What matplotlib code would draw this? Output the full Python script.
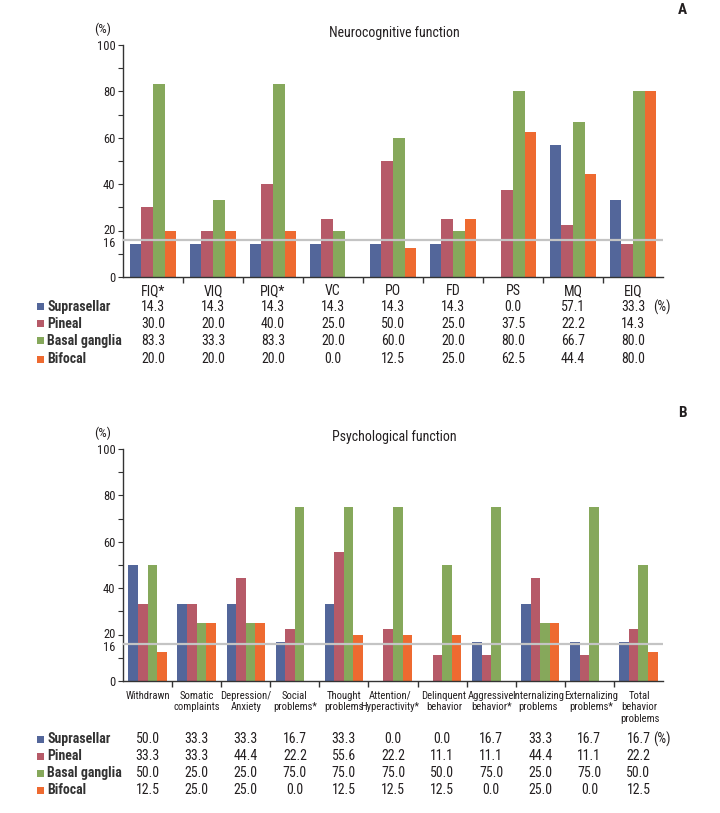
import matplotlib
matplotlib.use("Agg")
import matplotlib.pyplot as plt
from matplotlib.patches import Rectangle
from matplotlib.transforms import blended_transform_factory, ScaledTranslation
from matplotlib import font_manager as fm
import numpy as np

available = set(f.name for f in fm.fontManager.ttflist)
preferred = ['Roboto Condensed', 'Fira Sans Condensed', 'Archivo Narrow', 'PT Sans Narrow',
             'IBM Plex Sans Condensed', 'Barlow Condensed', 'Liberation Sans']
FONT = next((f for f in preferred if f in available), 'DejaVu Sans')
plt.rcParams['font.family'] = [FONT, 'DejaVu Sans']

series = ["Suprasellar", "Pineal", "Basal ganglia", "Bifocal"]
colors = ["#53669A", "#B65A68", "#86A85B", "#EE6A30"]

# Panel A: Neurocognitive function
a_categories = ["FIQ*", "VIQ", "PIQ*", "VC", "PO", "FD", "PS", "MQ", "EIQ"]
a_suprasellar = [14.3, 14.3, 14.3, 14.3, 14.3, 14.3, 0.0, 57.1, 33.3]
a_pineal = [30.0, 20.0, 40.0, 25.0, 50.0, 25.0, 37.5, 22.2, 14.3]
a_basal = [83.3, 33.3, 83.3, 20.0, 60.0, 20.0, 80.0, 66.7, 80.0]
a_bifocal = [20.0, 20.0, 20.0, 0.0, 12.5, 25.0, 62.5, 44.4, 80.0]

# Panel B: Psychological function
b_categories = ["Withdrawn", "Somatic\ncomplaints", "Depression/\nAnxiety", "Social\nproblems*",
                "Thought\nproblems", "Attention/\nHyperactivity*", "Delinquent\nbehavior",
                "Aggressive\nbehavior*", "Internalizing\nproblems", "Externalizing\nproblems*",
                "Total\nbehavior\nproblems"]
b_suprasellar = [50.0, 33.3, 33.3, 16.7, 33.3, 0.0, 0.0, 16.7, 33.3, 16.7, 16.7]
b_pineal = [33.3, 33.3, 44.4, 22.2, 55.6, 22.2, 11.1, 11.1, 44.4, 11.1, 22.2]
b_basal = [50.0, 25.0, 25.0, 75.0, 75.0, 75.0, 50.0, 75.0, 25.0, 75.0, 50.0]
b_bifocal = [12.5, 25.0, 25.0, 0.0, 12.5, 12.5, 12.5, 0.0, 25.0, 0.0, 12.5]
# bar heights as drawn in the original figure (bifocal bars differ from table for 3 groups)
b_bifocal_bars = [12.5, 25.0, 25.0, 0.0, 20.0, 20.0, 20.0, 0.0, 25.0, 0.0, 12.5]

reference_line = 16
yticks_major = [0, 16, 20, 40, 60, 80, 100]
yticks_minor = [10, 30, 50, 70, 90]

W, H = 720, 813
fig = plt.figure(figsize=(W / 100, H / 100), dpi=100)
TXT = "#231F20"


def fx(px):
    return px / W


def fy(py):
    return 1 - py / H


def shift(artist, dx_px, dy_px):
    artist.set_transform(artist.get_transform() +
                         ScaledTranslation(dx_px / 100, dy_px / 100, fig.dpi_scale_trans))


def panel(top, bottom, cats, bars, table, title, letter, label_y, row_ys, fs_lab, pad,
          nudges=None):
    ax = fig.add_axes([fx(123), fy(bottom), fx(663) - fx(123), fy(top) - fy(bottom)])
    n = len(cats)
    x = np.arange(n)
    bw = 0.195
    for i, (vals, c) in enumerate(zip(bars, colors)):
        ax.bar(x + (i - 1.5) * bw, vals, width=bw, color=c, linewidth=0, zorder=2)
    ax.axhline(reference_line, color="#C4C4C4", lw=1.6, zorder=3)
    ax.set_xlim(-0.5, n - 0.5)
    ax.set_ylim(0, 100)
    for s in ["top", "right"]:
        ax.spines[s].set_visible(False)
    for s in ["left", "bottom"]:
        ax.spines[s].set_color("#333333")
        ax.spines[s].set_linewidth(1.0)
    ax.set_yticks(yticks_major)
    ax.set_yticklabels([str(v) for v in yticks_major], fontsize=9, color=TXT)
    ax.set_yticks(yticks_minor, minor=True)
    ax.tick_params(axis="y", which="both", direction="out", length=3.5, width=0.8,
                   color="#333333", pad=2)
    for t, lab in zip(ax.yaxis.get_major_ticks(), ax.get_yticklabels()):
        loc = t.get_loc()
        if loc == 16:
            t.tick1line.set_visible(False)
            shift(lab, 0, -2)
        elif loc == 20:
            shift(lab, 0, 2)
    ax.set_xticks(x)
    ax.set_xticklabels(cats, fontsize=fs_lab, color=TXT, linespacing=1.2, va="top")
    ax.tick_params(axis="x", which="major", length=0, pad=pad)
    if nudges:
        for lab, dx in zip(ax.get_xticklabels(), nudges):
            if dx:
                shift(lab, dx, 0)
    ax.set_xticks(np.arange(0.5, n - 0.5, 1), minor=True)
    ax.tick_params(axis="x", which="minor", direction="out", length=4, width=1.0, color="#333333")

    fig.text(fx(103), fy(top - 16), "(%)", fontsize=9.5, color=TXT, ha="center", va="center")
    fig.text(fx(394), fy(top - 12), title, fontsize=10, color=TXT, ha="center", va="center")
    fig.text(fx(682), fy(label_y), letter, fontsize=11, fontweight="bold", color=TXT,
             ha="center", va="center")

    tr = blended_transform_factory(ax.transData, fig.transFigure)
    for r, (name, vals, c, py) in enumerate(zip(series, table, colors, row_ys)):
        fig.add_artist(Rectangle((fx(37), fy(py + 3.5)), fx(7), 7 / H,
                                 transform=fig.transFigure, color=c, lw=0))
        fig.text(fx(47), fy(py), name, fontsize=10, fontweight="bold", color="#333333",
                 ha="left", va="center")
        for j, v in enumerate(vals):
            fig.text(j, fy(py), f"{v:.1f}", transform=tr, fontsize=10, color=TXT,
                     ha="center", va="center")
        if r == 0:
            fig.text(fx(662), fy(py), "(%)", fontsize=10, color=TXT, ha="center", va="center")
    return ax


panel(45, 277, a_categories,
      [a_suprasellar, a_pineal, a_basal, a_bifocal],
      [a_suprasellar, a_pineal, a_basal, a_bifocal],
      "Neurocognitive function", "A", 10, [307, 324, 341, 359], 10, 5)

panel(449, 681, b_categories,
      [b_suprasellar, b_pineal, b_basal, b_bifocal_bars],
      [b_suprasellar, b_pineal, b_basal, b_bifocal],
      "Psychological function", "B", 413, [739, 756, 773, 790], 7.7, 7,
      nudges=[0, 0, 0, 0, 0, -3, 2, 0, -2, 2, 1])

fig.savefig("out.png", dpi=100)
